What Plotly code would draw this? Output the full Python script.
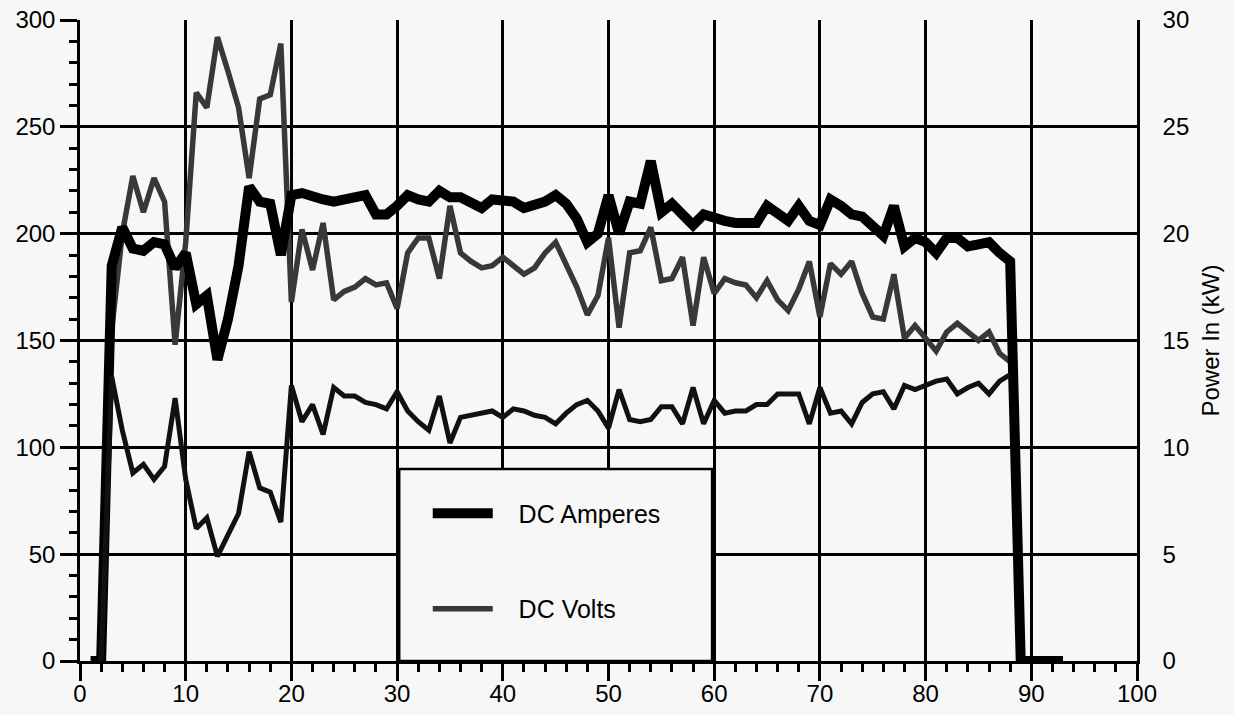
import plotly.graph_objects as go

# ---- data ----
amp_x = list(range(1, 94))
dc_amperes = [0, 0, 185, 203, 193, 192, 196, 195, 184, 191,
              167, 171, 141, 160, 185, 222, 215, 214, 190, 218,
              219, 217, 216, 215, 216, 217, 218, 209, 209, 213,
              218, 216, 215, 220, 217, 217, 215, 212, 216, 216,
              215, 212, 213, 215, 218, 214, 207, 196, 200, 218,
              200, 215, 214, 234, 210, 214, 209, 204, 209, 207,
              206, 205, 205, 205, 213, 210, 206, 213, 206, 204,
              216, 213, 209, 208, 204, 199, 213, 194, 198, 196,
              191, 198, 198, 194, 195, 196, 191, 187, 0, 0,
              0, 0, 0]

sig_x = list(range(2, 89))
dc_volts = [0, 155, 200, 227, 210, 226, 215, 148, 196,
            266, 259, 292, 276, 259, 226, 263, 265, 289, 168,
            202, 183, 205, 169, 173, 175, 179, 176, 177, 165,
            191, 198, 198, 179, 213, 191, 187, 184, 185, 189,
            185, 181, 184, 191, 196, 186, 175, 162, 171, 198,
            156, 191, 192, 203, 178, 179, 189, 157, 189, 172,
            179, 177, 176, 170, 178, 169, 164, 174, 187, 161,
            186, 181, 187, 172, 161, 160, 181, 151, 157, 151,
            145, 154, 158, 154, 150, 154, 144, 140]

power_kw = [0, 13.3, 10.8, 8.8, 9.2, 8.5, 9.1, 12.3, 8.5,
            6.2, 6.7, 4.9, 5.9, 6.9, 9.8, 8.1, 7.9, 6.5, 12.9,
            11.2, 12.0, 10.6, 12.8, 12.4, 12.4, 12.1, 12.0, 11.8, 12.6,
            11.7, 11.2, 10.8, 12.4, 10.2, 11.4, 11.5, 11.6, 11.7, 11.4,
            11.8, 11.7, 11.5, 11.4, 11.1, 11.6, 12.0, 12.2, 11.7, 10.9,
            12.7, 11.3, 11.2, 11.3, 11.9, 11.9, 11.1, 12.8, 11.1, 12.2,
            11.6, 11.7, 11.7, 12.0, 12.0, 12.5, 12.5, 12.5, 11.1, 12.8,
            11.6, 11.7, 11.1, 12.1, 12.5, 12.6, 11.8, 12.9, 12.7, 12.9,
            13.1, 13.2, 12.5, 12.8, 13.0, 12.5, 13.1, 13.4]

x_ticks = list(range(0, 101, 10))
y_ticks = list(range(0, 301, 50))
y2_ticks = list(range(0, 31, 5))

BG = "#f6f7f6"
FONT = "Liberation Sans, Arial, Helvetica, sans-serif"
PAD = "\u00a0\u00a0\u00a0"

fig = go.Figure()

fig.add_trace(go.Scatter(
    x=sig_x, y=power_kw, yaxis="y2", mode="lines", name="Power In",
    line=dict(color="#111111", width=5), showlegend=False,
    legendgroup="p"))

fig.add_trace(go.Scatter(
    x=sig_x, y=dc_volts, mode="lines", name=PAD + "DC Volts",
    line=dict(color="#383838", width=5.5), legendgroup="v",
    legendrank=2))

fig.add_trace(go.Scatter(
    x=amp_x, y=dc_amperes, mode="lines", name=PAD + "DC Amperes",
    line=dict(color="#000000", width=10), legendgroup="a",
    legendrank=1))

axis_common = dict(
    showgrid=True, gridcolor="#000000", gridwidth=2.5,
    showline=True, linecolor="#000000", linewidth=2.5,
    ticks="outside", ticklen=17, tickwidth=2.5, tickcolor="#000000",
    zeroline=False, automargin=False, tickfont=dict(size=24),
)

fig.update_layout(
    width=1234, height=715,
    margin=dict(l=80, r=97, t=20, b=54, autoexpand=False),
    paper_bgcolor=BG, plot_bgcolor=BG,
    font=dict(family=FONT, size=24, color="#000000"),
    showlegend=True,
    legend=dict(
        x=0.329, y=0.266, xanchor="left", yanchor="top",
        bgcolor="rgba(0,0,0,0)", borderwidth=0,
        font=dict(size=25, family=FONT),
        tracegroupgap=60, itemwidth=60,
    ),
    xaxis=dict(
        range=[0, 100], tickvals=x_ticks, ticktext=[str(v) for v in x_ticks],
        minor=dict(dtick=2, ticks="outside", ticklen=8, tickwidth=2.5,
                   tickcolor="#000000", showgrid=False),
        ticklabelstandoff=-8,
        **axis_common,
    ),
    yaxis=dict(
        range=[0, 300], tickvals=y_ticks, ticktext=[str(v) for v in y_ticks],
        minor=dict(dtick=10, ticks="outside", ticklen=8, tickwidth=2.5,
                   tickcolor="#000000", showgrid=False),
        **axis_common,
    ),
    yaxis2=dict(
        range=[0, 30], tickvals=y2_ticks, ticktext=[str(v) for v in y2_ticks],
        overlaying="y", side="right", showgrid=False, zeroline=False,
        showline=True, linecolor="#000000", linewidth=2.5,
        ticks="", ticklabelstandoff=18, automargin=False,
        title=dict(text="Power In (kW)", font=dict(size=24), standoff=14),
        tickfont=dict(size=24),
    ),
    shapes=[
        dict(type="rect", xref="paper", yref="paper",
             x0=0.302, x1=0.598, y0=0.0, y1=0.2995,
             fillcolor=BG, line=dict(color="#000000", width=2.5),
             layer="above"),
    ],
)

fig.write_html(
    "out.html",
    config={"displayModeBar": False},
    post_script="document.body.style.margin='0';"
                "document.body.style.background='" + BG + "';"
                "document.documentElement.style.overflow='hidden';",
)
